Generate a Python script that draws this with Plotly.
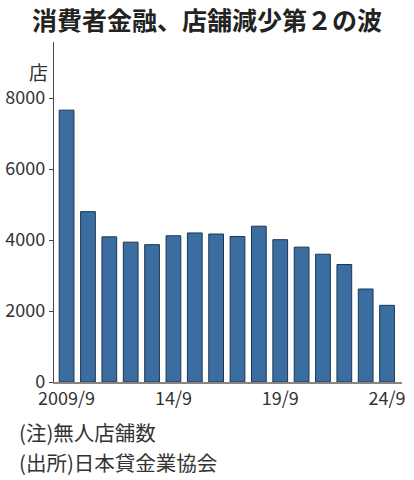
import plotly.graph_objects as go

# 無人店舗数（各年9月）
years = ["2009/9", "10/9", "11/9", "12/9", "13/9", "14/9", "15/9", "16/9",
         "17/9", "18/9", "19/9", "20/9", "21/9", "22/9", "23/9", "24/9"]
stores = [7660, 4800, 4090, 3940, 3870, 4120, 4200, 4170,
          4100, 4390, 4010, 3800, 3600, 3310, 2620, 2160]

tick_vals = ["2009/9", "14/9", "19/9", "24/9"]
y_ticks = [0, 2000, 4000, 6000, 8000]

FONT = "Noto Sans CJK JP"
BAR_COLOR = "#3a6ea0"
EDGE_COLOR = "#1e3552"

fig = go.Figure()
fig.add_trace(go.Bar(
    x=years, y=stores,
    marker=dict(color=BAR_COLOR, line=dict(color=EDGE_COLOR, width=1)),
    hoverinfo="x+y",
))

fig.update_layout(
    width=414, height=480,
    margin=dict(l=54, r=12, t=42, b=98, autoexpand=False),
    paper_bgcolor="white", plot_bgcolor="white",
    font=dict(family=FONT, size=20, color="#222"),
    bargap=0.31,
    showlegend=False,
    title=dict(text="<b>消費者金融、店舗減少第２の波</b>",
               x=0.5, xanchor="center", y=1 - 21 / 480, yanchor="middle",
               font=dict(family=FONT, size=25, color="#222")),
)

fig.update_xaxes(
    type="category", range=[-0.59, 15.7], automargin=False,
    tickmode="array", tickvals=tick_vals, ticktext=tick_vals,
    showline=True, linecolor="#8a8580", linewidth=1.5,
    ticks="", showgrid=False,
    tickfont=dict(size=18, color="#333"),
)
fig.update_yaxes(
    range=[0, 9580], tickvals=y_ticks, automargin=False,
    showline=True, linecolor="#444", linewidth=1.2,
    ticks="outside", ticklen=4, tickcolor="#444",
    showgrid=False, zeroline=False,
    tickfont=dict(size=18, color="#333"),
)

fig.add_annotation(text="店", xref="paper", yref="paper", x=-0.012, y=(382 - 71) / 340,
                   xanchor="right", yanchor="middle", showarrow=False,
                   font=dict(size=19, color="#333"))
fig.add_annotation(text="(注)無人店舗数", xref="paper", yref="paper",
                   x=-37 / 347.4, y=-(431.5 - 382) / 340, xanchor="left", yanchor="middle",
                   showarrow=False, font=dict(size=20.5, color="#333"))
fig.add_annotation(text="(出所)日本貸金業協会", xref="paper", yref="paper",
                   x=-37 / 347.4, y=-(461.5 - 382) / 340, xanchor="left", yanchor="middle",
                   showarrow=False, font=dict(size=20.5, color="#333"))

# drop the page's default body margin so the figure fills the window
fig.write_html("out.html", config={"displayModeBar": False},
               post_script="document.body.style.margin='0';")
